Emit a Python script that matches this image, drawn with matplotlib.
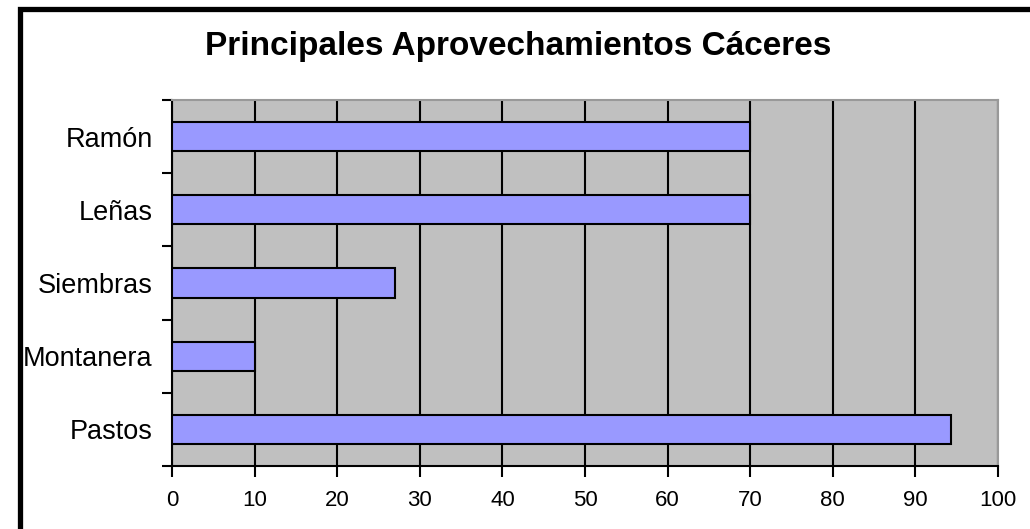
import matplotlib.pyplot as plt
from matplotlib.patches import Rectangle

categories = ['Pastos', 'Montanera', 'Siembras', 'Leñas', 'Ramón']
values = [94.3, 10, 27, 70, 70]
x_ticks = [0, 10, 20, 30, 40, 50, 60, 70, 80, 90, 100]

plt.rcParams['font.family'] = ['Liberation Sans', 'DejaVu Sans']

fig = plt.figure(figsize=(10.3, 5.29), dpi=100)
ax = fig.add_axes([172 / 1030, 1 - 466 / 529, 826 / 1030, 366 / 529])
ax.set_facecolor('#c0c0c0')

ypos = range(len(categories))
ax.barh(ypos, values, height=0.4, color='#9999ff', edgecolor='black', linewidth=1.5, zorder=3)

ax.set_xlim(0, 100)
ax.set_ylim(-0.5, len(categories) - 0.5)
ax.set_xticks(x_ticks)
ax.set_xticklabels([str(t) for t in x_ticks], fontsize=16)
ax.grid(axis='x', color='black', linewidth=1.5, zorder=1)
ax.set_axisbelow(True)

ax.set_yticks(list(ypos))
ax.set_yticklabels(categories, fontsize=19.5)
ax.set_yticks([i - 0.5 for i in range(len(categories) + 1)], minor=True)
ax.tick_params(axis='y', which='major', length=0, pad=14)
ax.tick_params(axis='y', which='minor', length=7, width=1.5, direction='out')
ax.tick_params(axis='x', length=8, width=1.5, pad=9)

for side in ['left', 'bottom']:
    ax.spines[side].set_linewidth(1.5)
    ax.spines[side].set_color('black')
for side in ['top', 'right']:
    ax.spines[side].set_linewidth(1.5)
    ax.spines[side].set_color('#999999')

fig.text(518 / 1030, 1 - 55 / 529, 'Principales Aprovechamientos Cáceres',
         ha='center', va='baseline', fontsize=24, fontweight='bold')

# black frame around the chart (only left and top edges visible)
fig.patches.append(Rectangle((19.5 / 1030, -0.2), 1.2, (1 - 9.5 / 529) + 0.2,
                             transform=fig.transFigure, fill=False,
                             edgecolor='black', linewidth=3.8))

fig.savefig('out.png', dpi=100, facecolor='white')
